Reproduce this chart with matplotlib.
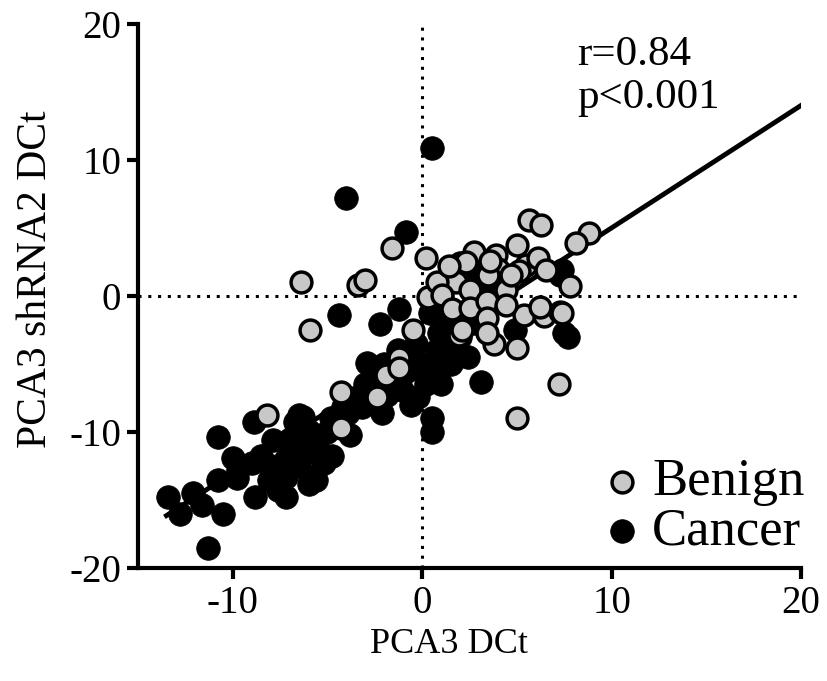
import matplotlib
matplotlib.use('Agg')
import matplotlib.pyplot as plt
import numpy as np

# values
benign_x = [-8.2, -6.4, -5.9, -3.4, -3.0, -1.6, 0.2, 0.3, -0.5, -4.3, -4.3, -2.4, -1.9,
            -1.2, -1.2, 1.95, 5.65, 6.3, 5.0, 8.8, 8.1, 2.75, 2.3, 3.9, 4.0, 3.5, 5.5,
            6.1, 6.55, 5.1, 7.8, 4.4, 1.8, 0.8, 1.05, 2.5, 1.6, 2.5, 3.4, 3.4, 3.8, 5.4,
            5.0, 6.45, 7.3, 6.2, 3.4, 5.0, 7.2, 4.4, 2.1, 3.6, 1.4, 4.7, 7.4]
benign_y = [-8.75, 1.0, -2.5, 0.8, 1.2, 3.5, 2.8, -0.1, -2.5, -7.1, -9.7, -7.4, -5.8,
            -4.6, -5.3, -2.9, 5.6, 5.2, 3.75, 4.6, 3.9, 3.2, 2.5, 3.0, 2.0, 1.5, 2.3,
            2.8, 1.9, 1.8, 0.7, 0.4, 1.0, 1.0, 0.1, 0.4, -1.0, -0.9, -0.4, -1.6, -3.5, -1.4,
            -3.8, -1.5, -1.2, -0.8, -2.7, -9.0, -6.5, -0.7, -2.5, 2.6, 2.2, 1.5, -1.25]

cancer_x = [0.5, -4.0, -0.85, -4.4, -2.2, -1.2, 0.9, 0.4, 0.5, 0.5, 3.1, 4.9, 7.7, 7.5,
            7.4, 7.3, -13.4, -12.8, -12.1, -11.6, -11.3, -10.5, -10.8, -10.8, -10.0, -9.8,
            -8.9, -8.8, -7.9, -7.7, -7.2, -9.0, -8.5, -6.3, -5.8, -6.7, -6.5, -6.0, -5.4,
            -7.6, -5.6, -4.75, -7.2, -9.7, -7.2, -8.1, -2.9, -3.2, -2.1, -1.05, -3.9, -4.5,
            -0.2, -6.8, -6.2, -5.5, -5.0, -4.8, -3.6, -3.0, -2.5, -2.7, -1.8, -1.5, -0.8,
            -0.5, 0.0, 0.5, 0.8, 1.2, 1.5, 1.8, 2.0, 2.4, 1.0, 0.2, -0.3, 2.8, 3.2, 3.6,
            2.9, 2.2, 1.5, -2.0, -3.8, -5.2, -6.5, -7.0, -8.0, -6.0, -4.2, -1.3, 4.2, 2.0,
            -0.6, -1.85]
cancer_y = [10.9, 7.2, 4.7, -1.4, -2.1, -1.0, -2.7, -1.25, -9.0, -10.0, -6.3, -2.5, -3.0, -2.7,
            1.9, 1.5, -14.8, -16.0, -14.5, -15.4, -18.5, -16.0, -10.4, -13.5, -11.9, -13.4,
            -9.3, -14.8, -10.6, -13.5, -14.8, -12.3, -11.8, -8.9, -13.3, -9.3, -8.75, -9.9, -11.8,
            -14.3, -13.5, -11.8, -12.0, -12.8, -13.3, -13.5, -4.9, -8.2, -8.6, -6.9, -8.6, -9.3,
            -7.4, -11.0, -11.5, -10.5, -10.0, -9.0, -7.5, -6.5, -6.0, -7.6, -7.0, -6.0, -5.5,
            -4.5, -5.0, -5.5, -4.0, -3.5, -5.0, -4.2, -3.0, -4.5, -6.5, -6.5, -3.5, -2.0, -1.0, 0.5,
            1.8, -1.8, -2.0, -5.0, -10.2, -12.3, -12.5, -10.5, -12.5, -13.8, -8.2, -4.0, 1.2, 2.4,
            -8.0, -7.3]

# linear fit drawn in the original
fit_slope = 0.9
fit_intercept = -4.0
fit_x = np.array([-13.5, 20.0])
fit_y = fit_slope * fit_x + fit_intercept

plt.rcParams['font.family'] = ['Liberation Serif', 'DejaVu Serif']
plt.rcParams['axes.unicode_minus'] = False

fig = plt.figure(figsize=(8.28, 6.81), dpi=100)
ax = fig.add_axes([0.1667, 0.166, 0.8007, 0.799])

ax.axvline(0, color='black', lw=2.2, ls=(0, (1, 2.2)), zorder=1)
ax.axhline(0, color='black', lw=2.2, ls=(0, (1, 2.2)), zorder=1)

ax.plot(fit_x, fit_y, color='black', lw=3.5, zorder=2)

ax.scatter(cancer_x, cancer_y, s=290, c='black', edgecolors='black', linewidths=0.5,
           zorder=3, label='Cancer')
ax.scatter(benign_x, benign_y, s=225, c='#c8c8c8', edgecolors='black', linewidths=2.5,
           zorder=4, label='Benign')

ax.set_xlim(-15, 20)
ax.set_ylim(-20, 20)
ax.set_xticks([-10, 0, 10, 20])
ax.set_yticks([-20, -10, 0, 10, 20])

for side in ['top', 'right']:
    ax.spines[side].set_visible(False)
for side in ['left', 'bottom']:
    ax.spines[side].set_linewidth(3)
ax.tick_params(width=3, length=8, labelsize=28, pad=4)

ax.set_xlabel('PCA3 DCt', fontsize=26)
ax.set_ylabel('PCA3 shRNA2 DCt', fontsize=30)
ax.xaxis.set_label_coords(0.469, -0.11)
ax.yaxis.set_label_coords(-0.125, 0.53)

ax.text(0.662, 0.978, 'r=0.84\np<0.001', transform=ax.transAxes, fontsize=31,
        va='top', ha='left', linespacing=1.15)

h, l = ax.get_legend_handles_labels()
ax.legend(h[::-1], l[::-1], loc='upper left', fontsize=38, frameon=False,
          handlelength=0.95, handletextpad=0.1, labelspacing=0.02, borderaxespad=0,
          bbox_to_anchor=(0.66, 0.24))

plt.savefig('out.png', dpi=100)
plt.close()
